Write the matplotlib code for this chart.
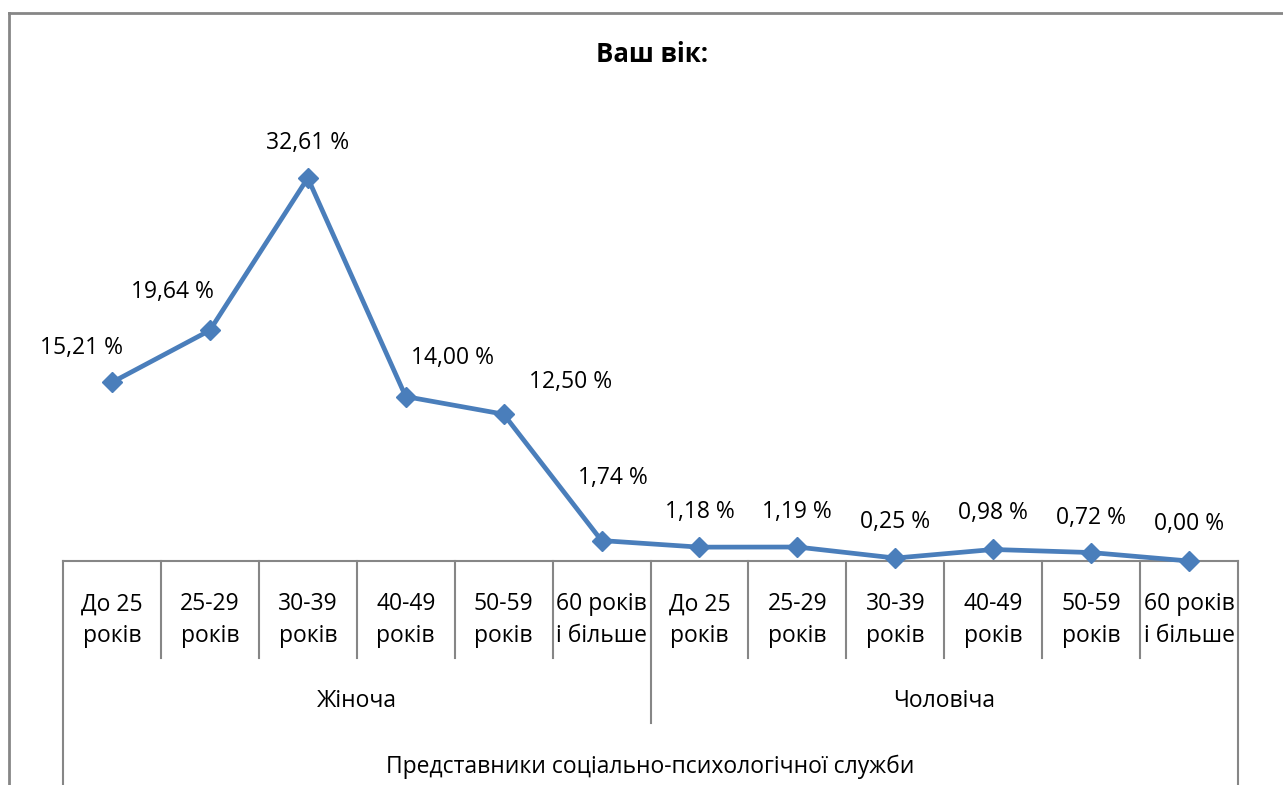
import matplotlib.pyplot as plt
import matplotlib.transforms as mtransforms
from matplotlib.lines import Line2D

plt.rcParams['font.family'] = ['Open Sans', 'DejaVu Sans']

title = "Ваш вік:"
age_labels = ["До 25\nроків", "25-29\nроків", "30-39\nроків", "40-49\nроків",
              "50-59\nроків", "60 років\nі більше"]
genders = ["Жіноча", "Чоловіча"]
group = "Представники соціально-психологічної служби"
values = [15.21, 19.64, 32.61, 14.00, 12.50, 1.74,
          1.18, 1.19, 0.25, 0.98, 0.72, 0.00]
categories = age_labels * 2

# label offsets (pixels) where labels were dragged in the original
label_dx = [-30, -37, 0, 47, 67, 11, 0, 0, 0, 0, 0, 0]
label_dy = [34, 38, 35, 39, 32, 63, 35, 35, 36, 36, 35, 37]

W, H = 1283, 785
fig = plt.figure(figsize=(W / 100, H / 100), dpi=100)
ax = fig.add_axes([63 / W, (H - 561) / H, 1175 / W, (561 - 91.2) / H])

col = "#4A7EBB"
grey = "#868686"
x = list(range(len(values)))
ax.plot(x, values, "-", color=col, lw=3.4, marker="D", ms=10, clip_on=False, zorder=3)

for i, v in enumerate(values):
    s = f"{v:.2f}".replace(".", ",") + " %"
    ax.annotate(s, (i, v), xytext=(label_dx[i] * 0.72, label_dy[i] * 0.72),
                textcoords="offset points", ha="center", va="center", fontsize=16.5)

ax.set_xlim(-0.5, len(values) - 0.5)
ax.set_ylim(0, 40)
for sp in ["top", "left", "right"]:
    ax.spines[sp].set_visible(False)
ax.spines["bottom"].set_color(grey)
ax.spines["bottom"].set_linewidth(1.5)
ax.set_xticks([])
ax.set_yticks([])

tr = mtransforms.blended_transform_factory(ax.transData, fig.transFigure)


def fy(px):
    return 1 - px / H


# category separators
for k in range(len(values) + 1):
    xs = k - 0.5
    if k in (0, len(values)):
        y_end = 785
    elif k == 6:
        y_end = 723
    else:
        y_end = 658
    ax.add_line(Line2D([xs, xs], [fy(561), fy(y_end)], transform=tr, color=grey,
                       lw=1.5, clip_on=False))

for i, lab in enumerate(categories):
    ax.text(i, fy(620), lab, transform=tr, ha="center", va="center",
            fontsize=16.5, linespacing=1.4)

for g, name in enumerate(genders):
    ax.text(g * 6 + 2.5, fy(701), name, transform=tr, ha="center", va="center",
            fontsize=16.5)

ax.text(5.5, fy(767), group, transform=tr, ha="center", va="center", fontsize=16.5)

fig.text(652 / W, fy(55), title, ha="center", va="center", fontsize=18.5,
         fontweight="bold")

# outer chart border (cut off at right and bottom)
fig.add_artist(Line2D([9 / W, 1], [fy(13), fy(13)], color=grey, lw=2))
fig.add_artist(Line2D([9 / W, 9 / W], [fy(13), 0], color=grey, lw=2))

fig.savefig("out.png", dpi=100)
